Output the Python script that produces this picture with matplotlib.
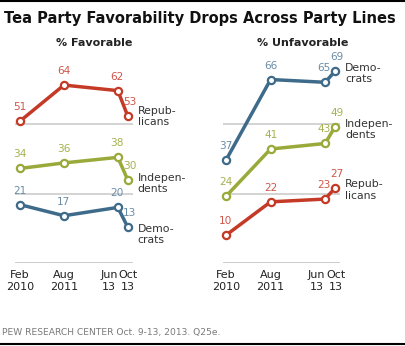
import numpy as np
import matplotlib.pyplot as plt
from matplotlib.lines import Line2D

# Survey dates as months since Feb 2010
months = [0, 18, 40, 44]
date_labels = ["Feb\n2010", "Aug\n2011", "Jun\n13", "Oct\n13"]

parties = ["Republicans", "Independents", "Democrats"]
party_names = ["Repub-\nlicans", "Indepen-\ndents", "Demo-\ncrats"]

favorable_rep = [51, 64, 62, 53]
favorable_ind = [34, 36, 38, 30]
favorable_dem = [21, 17, 20, 13]

unfavorable_rep = [10, 22, 23, 27]
unfavorable_ind = [24, 41, 43, 49]
unfavorable_dem = [37, 66, 65, 69]

line_colors = {"Republicans": "#c43a26", "Independents": "#9aaa3a", "Democrats": "#3f6b8b"}
text_colors = {"Republicans": "#d0564a", "Independents": "#a6b14f", "Democrats": "#6a8ca6"}

W, H = 405, 346
fig = plt.figure(figsize=(W / 100, H / 100), dpi=100)


def px_axes(x0, x1, y_top, y_bottom):
    return fig.add_axes([x0 / W, 1 - y_bottom / H, (x1 - x0) / W, (y_bottom - y_top) / H])


def draw_panel(ax, data, name_offsets, xlim):
    ax.set_xlim(*xlim)
    ax.set_ylim(0, 188 / 2.78)
    for sp in ax.spines.values():
        sp.set_visible(False)
    ax.set_xticks([])
    ax.set_yticks([])
    ax.patch.set_alpha(0)
    for g in (0, 25, 50):
        ax.axhline(g, color="#c8c8c8", lw=1.1 if g else 1.3, zorder=0)

    for party, name, vals, (nx, ny) in zip(parties, party_names, data, name_offsets):
        ax.plot(months, vals, color=line_colors[party], lw=2.5, marker="o", ms=5.2,
                mfc="white", mec=line_colors[party], mew=1.6, clip_on=False, zorder=3)
        for i, (m, v) in enumerate(zip(months, vals)):
            dx = 2 if i == 3 else (-1 if i == 2 else 0)
            ax.annotate(str(v), (m, v), xytext=(dx, 14), textcoords="offset pixels",
                        ha="center", va="center", fontsize=7.6, color=text_colors[party],
                        annotation_clip=False)
        ax.annotate(name, (months[-1], vals[-1]), xytext=(nx, ny), textcoords="offset pixels",
                    ha="left", va="center", fontsize=7.8, color="#333333", linespacing=1.15,
                    annotation_clip=False)

    # date labels below the axis
    for i, (m, lab) in enumerate(zip(months, date_labels)):
        if i == 2:
            ha, dx = "right", 0
        elif i == 3:
            ha, dx = "left", -9
        else:
            ha, dx = "center", 0
        ax.annotate(lab, (m, 0), xytext=(dx, -18), textcoords="offset pixels",
                    ha=ha, va="center", fontsize=8, color="#222222",
                    multialignment="center", linespacing=1.15, annotation_clip=False)


ax1 = px_axes(15, 133, 75, 263)
draw_panel(ax1, [favorable_rep, favorable_ind, favorable_dem],
           [(10, -1), (10, -4), (10, -8)], (-2.0, 46.2))

ax2 = px_axes(223, 340, 75, 263)
draw_panel(ax2, [unfavorable_rep, unfavorable_ind, unfavorable_dem],
           [(10, -2), (10, -3), (10, -2)], (-1.2, 46.0))

fig.text(4 / W, 1 - 18 / H, "Tea Party Favorability Drops Across Party Lines",
         fontsize=10.5, fontweight="bold", color="#111111", va="center", ha="left")
fig.text(94 / W, 1 - 43 / H, "% Favorable", fontsize=8, fontweight="bold",
         color="#222222", ha="center", va="center")
fig.text(303 / W, 1 - 43 / H, "% Unfavorable", fontsize=8, fontweight="bold",
         color="#222222", ha="center", va="center")
fig.text(2 / W, 1 - 333 / H, "PEW RESEARCH CENTER Oct. 9-13, 2013. Q25e.",
         fontsize=6.6, color="#7a7a7a", ha="left", va="center")

# rules at top and bottom
fig.add_artist(Line2D([0, 1], [1 - 1 / H, 1 - 1 / H], color="black", lw=1.5))
fig.add_artist(Line2D([0, 1], [1 - 344 / H, 1 - 344 / H], color="black", lw=1.5))

fig.savefig("out.png", dpi=100)
